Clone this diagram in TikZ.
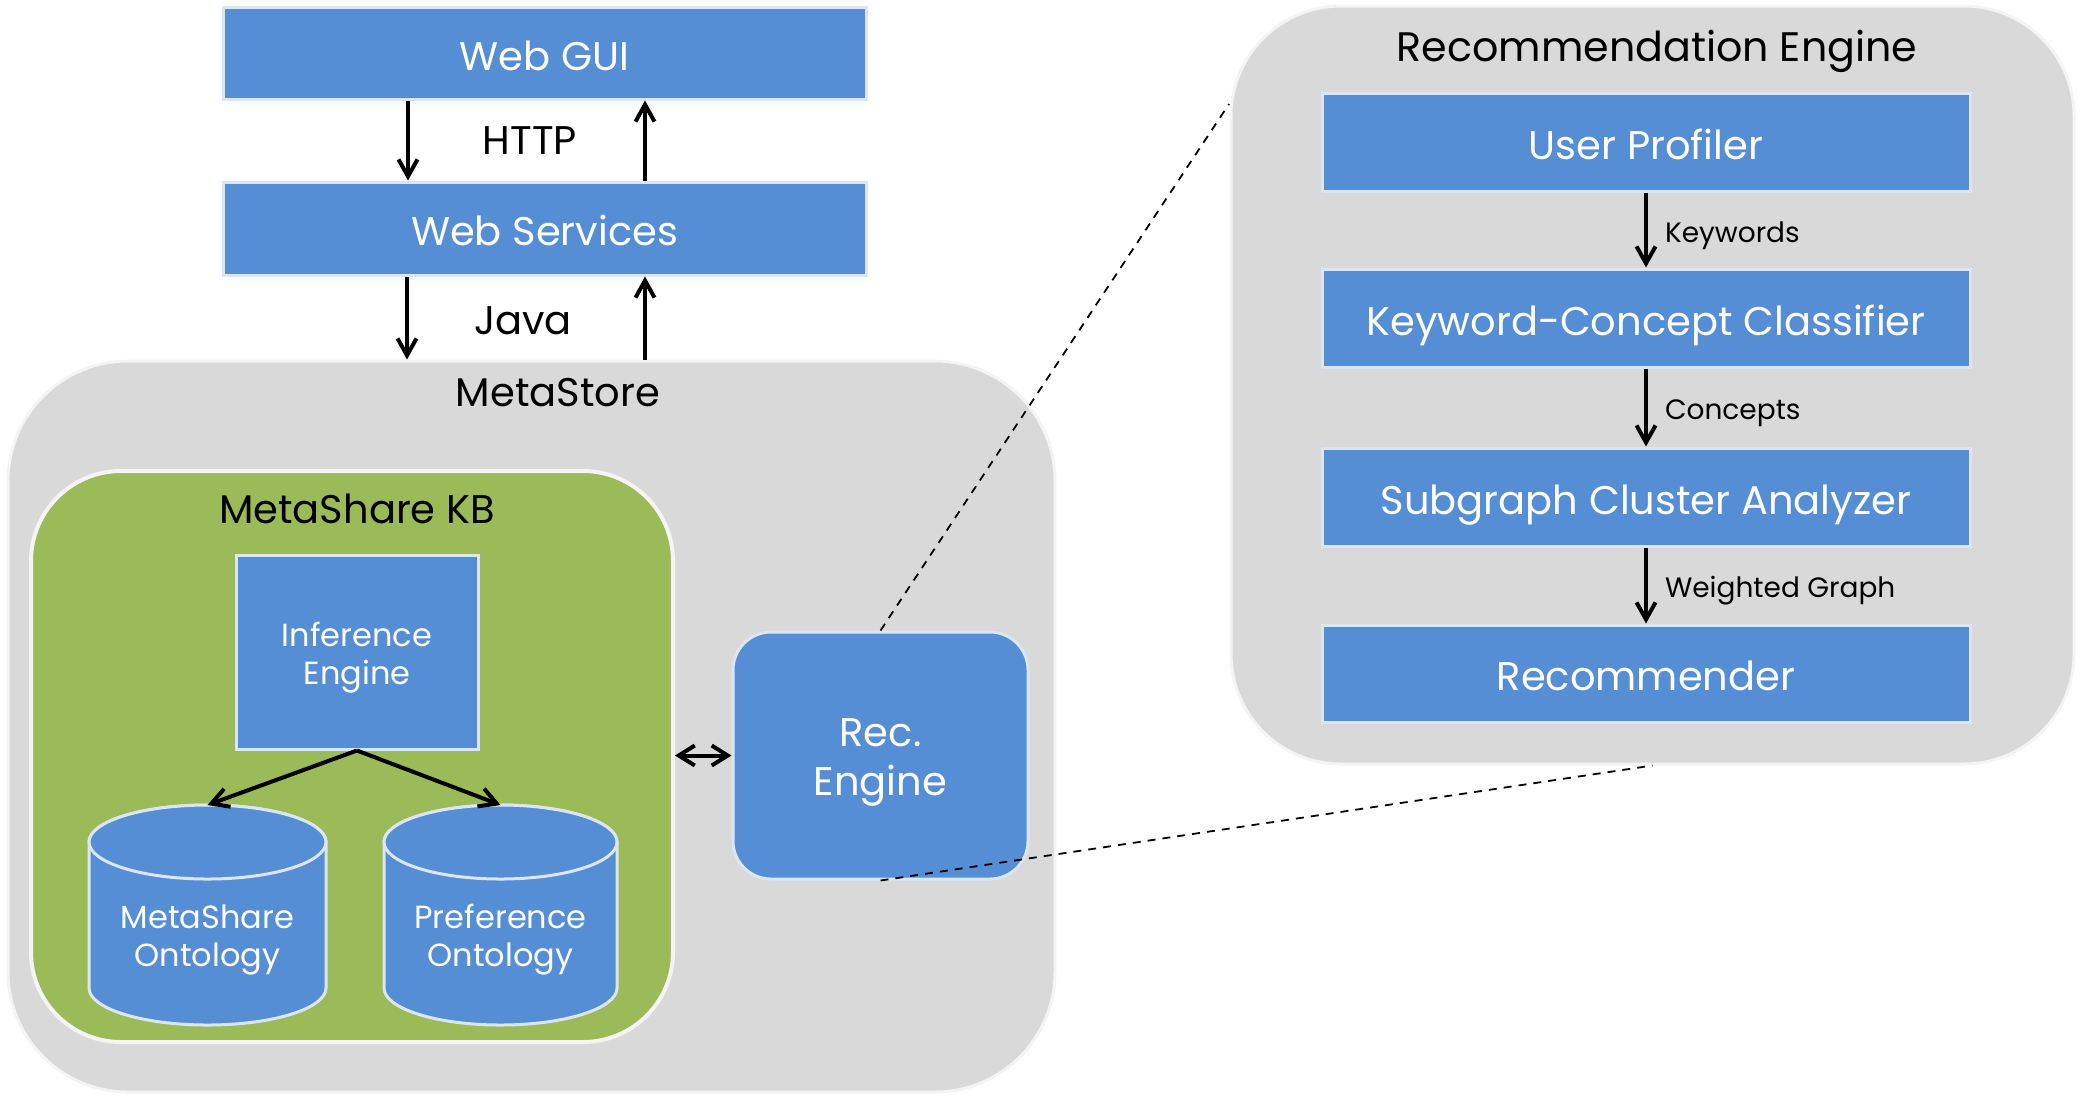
\documentclass[tikz,border=0pt]{standalone}
\usepackage{fontspec}
\setmainfont{Poppins}
\usetikzlibrary{arrows.meta}
\definecolor{boxblue}{RGB}{85,142,213}
\definecolor{boxedge}{RGB}{220,230,242}
\definecolor{panelgray}{RGB}{217,217,217}
\definecolor{paneledge}{RGB}{244,244,244}
\definecolor{kbgreen}{RGB}{155,187,89}
\tikzset{
  bluebox/.style={draw=boxedge, fill=boxblue, line width=1.5pt, text=white, inner sep=0pt, align=center},
  oneline/.style={text height=17.1pt, text depth=0pt},
  panel/.style={draw=paneledge, fill=panelgray, line width=1.5pt, inner sep=0pt},
  bigtext/.style={font=\fontsize{20}{24}\selectfont},
  midtext/.style={font=\fontsize{16}{19}\selectfont},
  smalltext/.style={font=\fontsize{14}{17}\selectfont, text height=12pt, text depth=0pt},
  arr/.style={line width=2pt, -{Straight Barb[length=8.5pt,width=9.5pt,line width=2pt]}},
  dblarr/.style={line width=2pt, {Straight Barb[length=8pt,width=10pt,line width=2pt]}-{Straight Barb[length=8pt,width=10pt,line width=2pt]}},
  zoomline/.style={line width=0.9pt, dash pattern=on 4pt off 3.5pt},
  cylbody/.style={draw=boxedge, fill=boxblue, line width=1.5pt},
  lbl/.style={inner sep=0pt}
}
\begin{document}
\begin{tikzpicture}[x=0.5pt,y=-0.5pt]
\useasboundingbox (0,0) rectangle (2080,1099);

% ---------- panels ----------
\node[panel, rounded corners=60pt, minimum width=523.5pt, minimum height=365.5pt] (metastore) at (531.5,726.5) {};
\node[panel, rounded corners=55pt, minimum width=421.5pt, minimum height=379pt] (recpanel) at (1652.5,385) {};
\node[draw=paneledge, fill=kbgreen, line width=2pt, rounded corners=45pt, inner sep=0pt, minimum width=321pt, minimum height=285.5pt] (kb) at (352,756.5) {};

\node[lbl, bigtext] (mslabel) at (558,393) {MetaStore};
\node[lbl, bigtext] (kblabel) at (357,509) {MetaShare KB};
\node[lbl, font=\fontsize{20.6}{24}\selectfont] (reclabel) at (1657,51) {Recommendation Engine};

% ---------- top boxes ----------
\node[bluebox, oneline, bigtext, minimum width=321.5pt, minimum height=46pt] (webgui) at (544.5,53) {Web GUI};
\node[bluebox, oneline, bigtext, minimum width=321.5pt, minimum height=46.5pt] (websvc) at (544.5,228.5) {Web Services};
\node[lbl, bigtext] (http) at (530,140.5) {HTTP};
\node[lbl, bigtext] (java) at (523,321) {Java};

% ---------- KB contents ----------
\node[bluebox, minimum width=121pt, minimum height=97pt] (inf) at (357,652) {};
\node[lbl, midtext, text=white, align=center, yshift=-2.65pt] (inftext) at (inf.center) {Inference\\Engine};

% cylinder 1
\path[cylbody] (89,842) -- (89,988) arc[start angle=180, end angle=360, x radius=59.25pt, y radius=18.5pt] -- (326,842) arc[start angle=0, end angle=180, x radius=59.25pt, y radius=18.5pt] -- cycle;
\path[cylbody] (207.5,842) ellipse [x radius=59.25pt, y radius=18.5pt];
\node[lbl, midtext, text=white, align=center] (msonto) at (207.5,939.5) {MetaShare\\Ontology};
\coordinate (msontotop) at (207.5,805);
% cylinder 2
\path[cylbody] (384,842) -- (384,988) arc[start angle=180, end angle=360, x radius=58.25pt, y radius=18.5pt] -- (617,842) arc[start angle=0, end angle=180, x radius=58.25pt, y radius=18.5pt] -- cycle;
\path[cylbody] (500.5,842) ellipse [x radius=58.25pt, y radius=18.5pt];
\node[lbl, midtext, text=white, align=center] (prefonto) at (500.5,939.5) {Preference\\Ontology};
\coordinate (prefontotop) at (500.5,805);

% ---------- Rec engine ----------
\node[bluebox, rounded corners=19pt, minimum width=147.5pt, minimum height=123.5pt] (receng) at (880.5,755.5) {};
\node[lbl, font=\fontsize{20}{24.5}\selectfont, text=white, align=center, yshift=-3.6pt] (recengtext) at (receng.center) {Rec.\\Engine};

% ---------- right pipeline ----------
\node[bluebox, oneline, bigtext, minimum width=324pt, minimum height=49pt] (up) at (1646,142) {User Profiler};
\node[bluebox, oneline, bigtext, minimum width=324pt, minimum height=49pt] (kcc) at (1646,318) {Keyword-Concept Classifier};
\node[bluebox, oneline, bigtext, minimum width=324pt, minimum height=49pt] (sca) at (1646,497) {Subgraph Cluster Analyzer};
\node[bluebox, oneline, bigtext, minimum width=324pt, minimum height=48.5pt] (recr) at (1646,673.5) {Recommender};

% ---------- arrows ----------
\draw[arr] ([xshift=-68.25pt]webgui.south) -- ([xshift=-68.25pt]websvc.north);
\draw[arr] ([xshift=50.25pt]websvc.north) -- ([xshift=50.25pt]webgui.south);
\coordinate (jl) at ([xshift=-68.75pt]websvc.south);
\coordinate (jr) at ([xshift=50.25pt]websvc.south);
\draw[arr] (jl) -- (jl |- metastore.north);
\draw[arr] (jr |- metastore.north) -- (jr);

\draw[arr] (inf.south) -- (msontotop);
\draw[arr] (inf.south) -- (prefontotop);
\draw[dblarr] (receng.west -| kb.east) -- (receng.west);

\draw[arr] (up.south) -- (kcc.north) node[midway, right=8.5pt, lbl, smalltext] (kw) {Keywords};
\draw[arr] (kcc.south) -- (sca.north) node[midway, right=8.5pt, lbl, smalltext] (cc) {Concepts};
\draw[arr] (sca.south) -- (recr.north) node[midway, right=8.5pt, lbl, smalltext] (wg) {Weighted Graph};

% ---------- zoom lines ----------
\coordinate (zoomtop) at (1229,104);
\draw[zoomline] (receng.north) -- (zoomtop);
\draw[zoomline] (receng.south) -- (recpanel.south);
\end{tikzpicture}
\end{document}
